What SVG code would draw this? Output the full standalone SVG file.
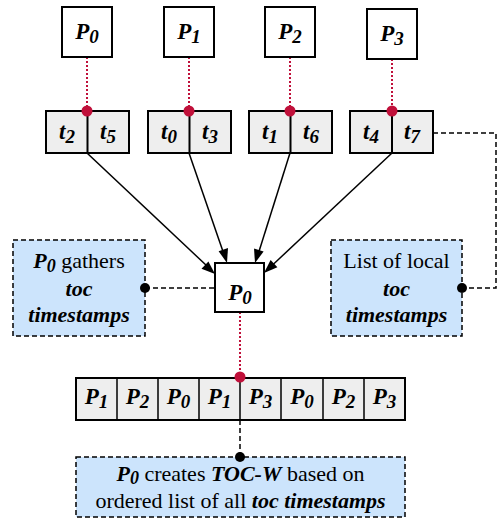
<svg xmlns="http://www.w3.org/2000/svg" width="499" height="529" viewBox="0 0 499 529" font-family="Liberation Serif">
<style>
.box{fill:#ffffff;stroke:#000;stroke-width:2}
.cell{fill:#eeeeee;stroke:#000;stroke-width:2}
.note{fill:#cce4fc;stroke:#000;stroke-width:1.5;stroke-dasharray:5,3}
.red{stroke:#c0103a;stroke-width:2;stroke-dasharray:2,2;fill:none}
.dash{stroke:#000;stroke-width:1.5;stroke-dasharray:5,3;fill:none}
.arr{stroke:#000;stroke-width:1.5;fill:none}
.head{fill:#000}
.rdot{fill:#c0103a}
.bdot{fill:#000}
</style>
<g id="connectors">
<line class="red" x1="87" y1="57" x2="87" y2="111"/>
<line class="red" x1="189" y1="57" x2="189" y2="111"/>
<line class="red" x1="290" y1="57" x2="290" y2="111"/>
<line class="red" x1="392" y1="59" x2="392" y2="111"/>
<line class="arr" x1="87" y1="153" x2="207" y2="266"/>
<polygon class="head" points="215,274 201.5,268.7 208.4,261.4"/>
<line class="arr" x1="189" y1="153" x2="223.5" y2="253"/>
<polygon class="head" points="227,263 218.6,251.2 228,248"/>
<line class="arr" x1="290" y1="153" x2="258.5" y2="253"/>
<polygon class="head" points="255,263 254,248.6 263.6,251.6"/>
<line class="arr" x1="392" y1="153" x2="272" y2="265.5"/>
<polygon class="head" points="264,273 270.6,260 277.4,267.3"/>
<polyline class="dash" points="433,133 496,133 496,288 462,288"/>
<line class="dash" x1="145" y1="288" x2="215" y2="288"/>
<line class="red" x1="240" y1="312" x2="240" y2="377"/>
<line class="dash" x1="240" y1="420" x2="240" y2="457"/>
</g>
<g id="P0top"><rect class="box" x="62" y="7" width="50" height="50"/><text x="87" y="39" style="font-family:'Liberation Serif'" font-size="23" font-weight="bold" font-style="italic" text-anchor="middle">P<tspan font-size="19" dy="4">0</tspan></text></g>
<g id="P1top"><rect class="box" x="164" y="7" width="50" height="50"/><text x="189" y="39" style="font-family:'Liberation Serif'" font-size="23" font-weight="bold" font-style="italic" text-anchor="middle">P<tspan font-size="19" dy="4">1</tspan></text></g>
<g id="P2top"><rect class="box" x="265" y="7" width="50" height="50"/><text x="290" y="39" style="font-family:'Liberation Serif'" font-size="23" font-weight="bold" font-style="italic" text-anchor="middle">P<tspan font-size="19" dy="4">2</tspan></text></g>
<g id="P3top"><rect class="box" x="367" y="9" width="50" height="50"/><text x="392" y="41" style="font-family:'Liberation Serif'" font-size="23" font-weight="bold" font-style="italic" text-anchor="middle">P<tspan font-size="19" dy="4">3</tspan></text></g>
<g id="T0">
<rect class="cell" x="46" y="111" width="83" height="42"/><line x1="87.5" y1="111" x2="87.5" y2="153" stroke="#000" stroke-width="2"/>
<text x="67" y="139" style="font-family:'Liberation Serif'" font-size="23" font-weight="bold" font-style="italic" text-anchor="middle">t<tspan font-size="19" dy="4">2</tspan></text>
<text x="108" y="139" style="font-family:'Liberation Serif'" font-size="23" font-weight="bold" font-style="italic" text-anchor="middle">t<tspan font-size="19" dy="4">5</tspan></text>
<circle class="rdot" cx="87" cy="111" r="5.5"/>
</g>
<g id="T1">
<rect class="cell" x="148" y="111" width="83" height="42"/><line x1="189.5" y1="111" x2="189.5" y2="153" stroke="#000" stroke-width="2"/>
<text x="169" y="139" style="font-family:'Liberation Serif'" font-size="23" font-weight="bold" font-style="italic" text-anchor="middle">t<tspan font-size="19" dy="4">0</tspan></text>
<text x="210" y="139" style="font-family:'Liberation Serif'" font-size="23" font-weight="bold" font-style="italic" text-anchor="middle">t<tspan font-size="19" dy="4">3</tspan></text>
<circle class="rdot" cx="189" cy="111" r="5.5"/>
</g>
<g id="T2">
<rect class="cell" x="249" y="111" width="83" height="42"/><line x1="290.5" y1="111" x2="290.5" y2="153" stroke="#000" stroke-width="2"/>
<text x="270" y="139" style="font-family:'Liberation Serif'" font-size="23" font-weight="bold" font-style="italic" text-anchor="middle">t<tspan font-size="19" dy="4">1</tspan></text>
<text x="311" y="139" style="font-family:'Liberation Serif'" font-size="23" font-weight="bold" font-style="italic" text-anchor="middle">t<tspan font-size="19" dy="4">6</tspan></text>
<circle class="rdot" cx="290" cy="111" r="5.5"/>
</g>
<g id="T3">
<rect class="cell" x="350" y="111" width="83" height="42"/><line x1="392" y1="111" x2="392" y2="153" stroke="#000" stroke-width="2"/>
<text x="371" y="139" style="font-family:'Liberation Serif'" font-size="23" font-weight="bold" font-style="italic" text-anchor="middle">t<tspan font-size="19" dy="4">4</tspan></text>
<text x="412" y="139" style="font-family:'Liberation Serif'" font-size="23" font-weight="bold" font-style="italic" text-anchor="middle">t<tspan font-size="19" dy="4">7</tspan></text>
<circle class="rdot" cx="392" cy="111" r="5.5"/>
</g>
<g id="noteLeft">
<rect class="note" x="13" y="240" width="132" height="96"/>
<text x="79" y="268" style="font-family:'Liberation Serif'" font-size="22" text-anchor="middle"><tspan font-weight="bold" font-style="italic">P<tspan font-size="18" dy="4">0</tspan></tspan><tspan dy="-4"> gathers</tspan></text>
<text x="79" y="296" style="font-family:'Liberation Serif'" font-size="22" font-weight="bold" font-style="italic" text-anchor="middle">toc</text>
<text x="79" y="322" style="font-family:'Liberation Serif'" font-size="22" font-weight="bold" font-style="italic" text-anchor="middle">timestamps</text>
<circle class="bdot" cx="145" cy="288" r="5"/>
</g>
<g id="noteRight">
<rect class="note" x="331" y="240" width="131" height="96"/>
<text x="396.5" y="268" style="font-family:'Liberation Serif'" font-size="22" text-anchor="middle">List of local</text>
<text x="396.5" y="296" style="font-family:'Liberation Serif'" font-size="22" font-weight="bold" font-style="italic" text-anchor="middle">toc</text>
<text x="396.5" y="322" style="font-family:'Liberation Serif'" font-size="22" font-weight="bold" font-style="italic" text-anchor="middle">timestamps</text>
<circle class="bdot" cx="462" cy="288" r="5"/>
</g>
<g id="P0center">
<rect class="box" x="215" y="263" width="49" height="49"/>
<text x="240" y="300" style="font-family:'Liberation Serif'" font-size="23" font-weight="bold" font-style="italic" text-anchor="middle">P<tspan font-size="19" dy="4">0</tspan></text>
</g>
<g id="orderedList">
<rect class="cell" x="76" y="378" width="329" height="42"/>
<g stroke="#000" stroke-width="1.5">
<line x1="117" y1="378" x2="117" y2="420"/><line x1="158" y1="378" x2="158" y2="420"/><line x1="199" y1="378" x2="199" y2="420"/><line x1="240" y1="378" x2="240" y2="420"/><line x1="281" y1="378" x2="281" y2="420"/><line x1="323" y1="378" x2="323" y2="420"/><line x1="364" y1="378" x2="364" y2="420"/>
</g>
<g font-size="23" font-weight="bold" font-style="italic" text-anchor="middle">
<text x="96.5" y="404" style="font-family:'Liberation Serif'">P<tspan font-size="19" dy="4">1</tspan></text>
<text x="137.5" y="404" style="font-family:'Liberation Serif'">P<tspan font-size="19" dy="4">2</tspan></text>
<text x="178.5" y="404" style="font-family:'Liberation Serif'">P<tspan font-size="19" dy="4">0</tspan></text>
<text x="219.5" y="404" style="font-family:'Liberation Serif'">P<tspan font-size="19" dy="4">1</tspan></text>
<text x="260.5" y="404" style="font-family:'Liberation Serif'">P<tspan font-size="19" dy="4">3</tspan></text>
<text x="302" y="404" style="font-family:'Liberation Serif'">P<tspan font-size="19" dy="4">0</tspan></text>
<text x="343.5" y="404" style="font-family:'Liberation Serif'">P<tspan font-size="19" dy="4">2</tspan></text>
<text x="384.5" y="404" style="font-family:'Liberation Serif'">P<tspan font-size="19" dy="4">3</tspan></text>
</g>
<circle class="rdot" cx="240" cy="377" r="5.5"/>
</g>
<g id="noteBottom">
<rect class="note" x="76" y="457" width="329" height="60"/>
<text x="240.5" y="481" style="font-family:'Liberation Serif'" font-size="22" text-anchor="middle"><tspan font-weight="bold" font-style="italic">P<tspan font-size="18" dy="3">0</tspan></tspan><tspan dy="-3"> creates </tspan><tspan font-weight="bold" font-style="italic">TOC-W</tspan> based on</text>
<text x="240.5" y="508" style="font-family:'Liberation Serif'" font-size="22" text-anchor="middle">ordered list of all <tspan font-weight="bold" font-style="italic">toc timestamps</tspan></text>
<circle class="bdot" cx="240" cy="457" r="5"/>
</g>
</svg>
